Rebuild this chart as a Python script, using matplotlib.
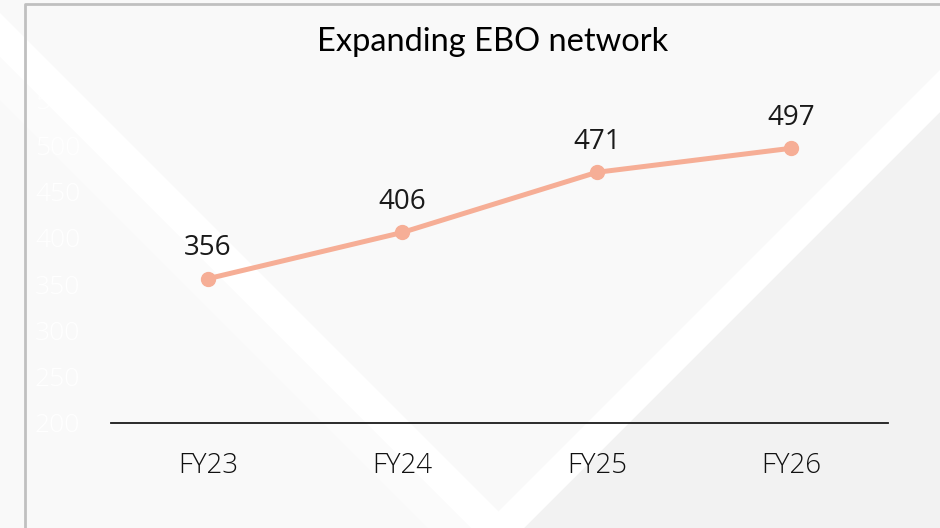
import matplotlib.pyplot as plt
from matplotlib.patches import Polygon

years = ["FY23", "FY24", "FY25", "FY26"]
stores = [356, 406, 471, 497]
y_ticks = [200, 250, 300, 350, 400, 450, 500, 550]

LINE_COLOR = "#F6AE96"
W, H = 940, 528

fig = plt.figure(figsize=(9.4, 5.28), dpi=100)
fig.patch.set_facecolor("#f9f9f9")

# decorative background: two white diagonal stripes forming a V, darker wedge at right
bg = fig.add_axes([0, 0, 1, 1], zorder=0)
bg.set_xlim(0, W)
bg.set_ylim(H, 0)
bg.axis("off")
bg.add_patch(Polygon([(1052 - H, H), (W, 1052 - W), (W, H)], closed=True,
                     facecolor="#f2f2f2", edgecolor="none"))
bg.add_patch(Polygon([(0, 57), (0, 100), (W, W + 100), (W, W + 57)], closed=True,
                     facecolor="#fbfbfb", edgecolor="none"))
bg.add_patch(Polygon([(0, 13), (0, 57), (W, W + 57), (W, W + 13)], closed=True,
                     facecolor="white", edgecolor="none"))
bg.add_patch(Polygon([(1010 - H - 50, H + 50), (W, 1010 - W), (W, 1052 - W), (1052 - H - 50, H + 50)],
                     closed=True, facecolor="white", edgecolor="none"))
# frame border
bg.plot([25, 25, W], [H, 4, 4], color="#c0c0c0", lw=2.0, solid_capstyle="butt")

ax = fig.add_axes([0.118, 0.199, 0.827, 0.613], zorder=1)
ax.patch.set_alpha(0)
x = [i + 0.5 for i in range(len(years))]
ax.plot(x, stores, color=LINE_COLOR, lw=3.6, marker="o", markersize=10,
        solid_capstyle="round")
for xi, v in zip(x, stores):
    ax.annotate(str(v), (xi, v), xytext=(0, 17), textcoords="offset points",
                ha="center", va="baseline", fontsize=20, family="Open Sans",
                color="#1a1a1a")

ax.set_xlim(0, len(years))
ax.set_ylim(200, 550)
ax.set_xticks(x)
ax.set_xticklabels(years, fontsize=20, family="Open Sans", fontweight="light",
                   color="#111111")
ax.set_yticks(y_ticks)
ax.set_yticklabels([str(t) for t in y_ticks], fontsize=19, family="Open Sans",
                   fontweight="light", color="white")
ax.tick_params(axis="both", length=0)
ax.tick_params(axis="x", pad=21)
ax.tick_params(axis="y", pad=22)
for side in ["top", "right", "left"]:
    ax.spines[side].set_visible(False)
ax.spines["bottom"].set_color("#1a1a1a")
ax.spines["bottom"].set_linewidth(1.3)

fig.text(0.524, 0.92, "Expanding EBO network", ha="center", va="center",
         fontsize=23.5, family="Lato", color="black")

fig.savefig("out.png", dpi=100, facecolor=fig.get_facecolor())
